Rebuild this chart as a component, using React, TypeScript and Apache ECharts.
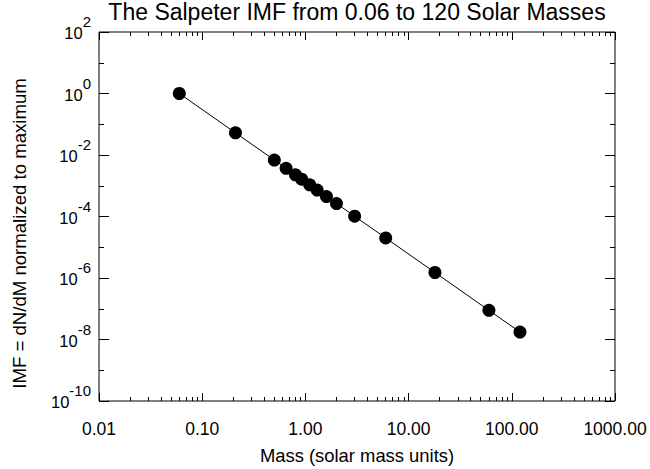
import React, { useEffect, useRef } from "react";
import * as echarts from "echarts";

// Data
const masses = [0.06, 0.21, 0.5, 0.65, 0.8, 0.92, 1.1, 1.3, 1.6, 2.0, 3.0, 6.0, 18, 60, 120];
const imfValues = [1, 0.0527, 6.86e-3, 3.7e-3, 2.27e-3, 1.64e-3, 1.075e-3, 7.26e-4, 4.46e-4, 2.64e-4, 1.02e-4, 2.0e-5, 1.51e-6, 8.9e-8, 1.75e-8];

// Axis structure (decades, in log10 units)
const xMinExp = -2;
const xMaxExp = 3;
const yMinExp = -10;
const yMaxExp = 2;
const yMajorStep = 2;
const xMinorMultipliers = [2, 3, 4, 5, 6, 7, 8, 9];
const yMinorExps = [-9, -7, -5, -3, -1, 1];

const FONT = "'Liberation Sans', Helvetica, Arial, sans-serif";
const INK = "#000";

export default function App() {
  const ref = useRef<HTMLDivElement>(null);

  useEffect(() => {
    document.body.style.margin = "0";
    if (!ref.current) return;
    const chart = echarts.init(ref.current, undefined, { renderer: "svg" });

    const xMinor: number[] = [];
    for (let e = xMinExp; e < xMaxExp; e++) {
      xMinorMultipliers.forEach((m) => xMinor.push(e + Math.log10(m)));
    }

    const noLine = { show: false, onZero: false };

    const xMajor = (position: "bottom" | "top", withLabels: boolean) => ({
      type: "value",
      gridIndex: 0,
      position,
      min: xMinExp,
      max: xMaxExp,
      interval: 1,
      axisLine: noLine,
      splitLine: { show: false },
      axisTick: { show: true, inside: true, length: 8, lineStyle: { color: INK, width: 1 } },
      axisLabel: withLabels
        ? {
            show: true,
            margin: 19,
            fontSize: 17.5,
            fontFamily: FONT,
            color: INK,
            formatter: (v: number) => Math.pow(10, v).toFixed(2),
          }
        : { show: false },
      ...(withLabels
        ? {
            name: "Mass (solar mass units)",
            nameLocation: "middle",
            nameGap: 45,
            nameTextStyle: { fontSize: 18.4, fontFamily: FONT, color: INK },
          }
        : {}),
    });
    const xMinorAxis = (position: "bottom" | "top") => ({
      type: "value",
      gridIndex: 0,
      position,
      min: xMinExp,
      max: xMaxExp,
      axisLine: noLine,
      splitLine: { show: false },
      axisLabel: { show: false },
      axisTick: { show: true, inside: true, length: 4, customValues: xMinor, lineStyle: { color: INK, width: 1 } },
    });

    const yMajor = (position: "left" | "right", withLabels: boolean) => ({
      type: "value",
      gridIndex: 0,
      position,
      min: yMinExp,
      max: yMaxExp,
      interval: yMajorStep,
      axisLine: noLine,
      splitLine: { show: false },
      axisTick: { show: true, inside: true, length: 10, lineStyle: { color: INK, width: 1 } },
      axisLabel: withLabels
        ? {
            show: true,
            margin: 8,
            color: INK,
            fontFamily: FONT,
            formatter: (v: number) => `{b|10}{s|${Math.round(v)}}`,
            rich: {
              b: { fontSize: 16.5, fontFamily: FONT, color: INK, padding: [2, 0, 0, 0] },
              s: { fontSize: 15, fontFamily: FONT, color: INK, padding: [0, 0, 21, 0] },
            },
          }
        : { show: false },
      ...(withLabels
        ? {
            name: "IMF = dN/dM normalized to maximum",
            nameLocation: "middle",
            nameGap: 70,
            nameTextStyle: { fontSize: 18.6, fontFamily: FONT, color: INK, padding: [0, 34, 0, 0] },
          }
        : {}),
    });
    const yMinorAxis = (position: "left" | "right") => ({
      type: "value",
      gridIndex: 0,
      position,
      min: yMinExp,
      max: yMaxExp,
      axisLine: noLine,
      splitLine: { show: false },
      axisLabel: { show: false },
      axisTick: { show: true, inside: true, length: 5, customValues: yMinorExps, lineStyle: { color: INK, width: 1 } },
    });

    const option: any = {
      animation: false,
      backgroundColor: "#fff",
      title: {
        text: "The Salpeter IMF from 0.06 to 120 Solar Masses",
        left: 357,
        top: 0,
        padding: 0,
        textAlign: "center",
        textStyle: { fontSize: 23, fontWeight: "normal", fontFamily: FONT, color: INK },
      },
      grid: {
        left: 99,
        right: 35,
        top: 32,
        bottom: 66,
        show: true,
        borderColor: INK,
        borderWidth: 1,
        backgroundColor: "transparent",
      },
      xAxis: [
        { type: "log", logBase: 10, gridIndex: 0, min: Math.pow(10, xMinExp), max: Math.pow(10, xMaxExp), show: false, axisLine: { onZero: false } },
        xMajor("bottom", true),
        xMinorAxis("bottom"),
        xMajor("top", false),
        xMinorAxis("top"),
      ],
      yAxis: [
        { type: "log", logBase: 10, gridIndex: 0, min: Math.pow(10, yMinExp), max: Math.pow(10, yMaxExp), show: false, axisLine: { onZero: false } },
        yMajor("left", true),
        yMinorAxis("left"),
        yMajor("right", false),
        yMinorAxis("right"),
      ],
      series: [
        {
          type: "line",
          xAxisIndex: 0,
          yAxisIndex: 0,
          data: masses.map((m, i) => [m, imfValues[i]]),
          symbol: "circle",
          symbolSize: 13,
          showAllSymbol: true,
          itemStyle: { color: INK },
          lineStyle: { color: INK, width: 1 },
        },
      ],
    };

    chart.setOption(option);
    return () => chart.dispose();
  }, []);

  return <div ref={ref} style={{ width: 650, height: 469 }} />;
}
